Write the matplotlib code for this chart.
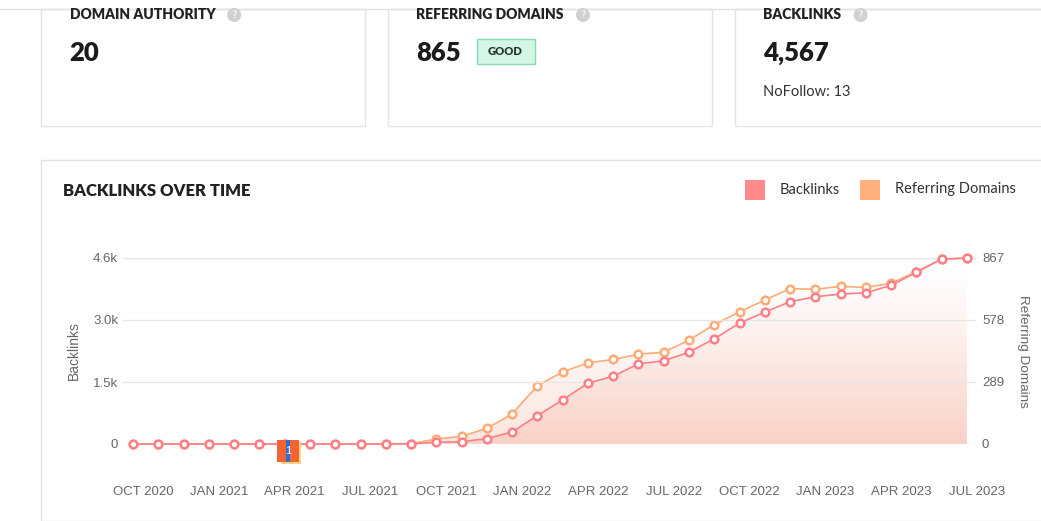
import matplotlib
matplotlib.use('Agg')
import matplotlib.pyplot as plt
import numpy as np
from matplotlib.patches import Rectangle, Circle, Polygon
from matplotlib.lines import Line2D
from matplotlib import transforms

W, H = 1041, 521

# monthly values, OCT 2020 .. JUL 2023
backlinks = [0, 0, 0, 0, 0, 0, 0, 0, 0, 0, 0, 5,
             41, 57, 131, 295, 697, 1082, 1492, 1664, 1968, 2042, 2255, 2583,
             2968, 3239, 3493, 3616, 3681, 3714, 3895, 4214, 4542, 4567]
ref_domains = [0, 0, 0, 0, 0, 0, 0, 0, 0, 0, 0, 2,
               23, 36, 73, 140, 272, 336, 378, 394, 419, 428, 484, 556,
               616, 671, 724, 721, 735, 730, 749, 803, 862, 865]
tick_labels = ['OCT 2020', 'JAN 2021', 'APR 2021', 'JUL 2021', 'OCT 2021', 'JAN 2022',
               'APR 2022', 'JUL 2022', 'OCT 2022', 'JAN 2023', 'APR 2023', 'JUL 2023']
bl_max = 4567
rd_max = 867
bl_ticks = [0, 1522, 3045, 4567]
bl_tick_labels = ['0', '1.5k', '3.0k', '4.6k']
rd_ticks = [0, 289, 578, 867]
annotation_month = 6
annotation_text = '1'

cards = [('DOMAIN AUTHORITY', '20'), ('REFERRING DOMAINS', '865'), ('BACKLINKS', '4,567')]
nofollow = 'NoFollow: 13'

RED = '#ff7f88'
ORANGE = '#ffab77'
TICK = '#666666'
SALMON = (0.96, 0.62, 0.53)

fig = plt.figure(figsize=(W / 100, H / 100), dpi=100)
PX = transforms.IdentityTransform()


def box(x0, y0, x1, y1, z=-5, **kw):
	fig.add_artist(Rectangle((x0, H - y1), x1 - x0, y1 - y0, transform=PX, zorder=z, **kw))


def label(x, y, s, **kw):
	return fig.text(x, H - y, s, transform=PX, **kw)


# top stat cards
fig.add_artist(Line2D([0, W], [H - 8.5, H - 8.5], transform=PX, color='#e2e2e2', lw=1,
                      zorder=-4))
card_x = [40.5, 387.5, 734.5]
card_r = [364.5, 711.5, 1050]
heads = []
for (title, value), x0, x1 in zip(cards, card_x, card_r):
	box(x0, 8.5, x1, 125.5, fc='white', ec='#e4e4e4', lw=1)
	heads.append(label(x0 + 29, 14.5, title, fontfamily='Lato', fontweight='heavy',
	                   fontsize=10, color='#222222', va='center'))
	label(x0 + 29, 53, value, fontfamily='Lato', fontweight='heavy', fontsize=18.5,
	      color='#1b1b1b', va='center')

fig.canvas.draw()
r = fig.canvas.get_renderer()
for txt in heads:
	bb = txt.get_window_extent(r)
	cx = bb.x1 + 19
	fig.add_artist(Circle((cx, H - 15), 7, transform=PX, fc='#d0d0d0', ec='none'))
	fig.text(cx, H - 15.5, '?', transform=PX, fontsize=7, color='#eeeeee', ha='center',
	         va='center', fontweight='bold')

box(476.5, 38.5, 534.5, 63.5, z=1, fc='#d3f6e6', ec='#86dbb3', lw=1)
label(505.5, 51.5, 'GOOD', fontfamily='Lato', fontweight='heavy', fontsize=8,
      color='#24352d', ha='center', va='center')
label(763, 92, nofollow, fontfamily='Lato', fontsize=10.5, color='#333333', va='center')

# chart card
box(40.5, 159.5, 1050, 520.5, fc='white', ec='#e4e4e4', lw=1)
label(63, 191, 'BACKLINKS OVER TIME', fontfamily='Lato', fontweight='heavy', fontsize=12,
      color='#222222', va='center')
box(745, 180, 765, 200, z=1, fc='#ff8a8a', ec='none')
label(780, 189.5, 'Backlinks', fontfamily='Lato', fontsize=10.5, color='#333333', va='center')
box(860, 180, 880, 200, z=1, fc='#ffb07d', ec='none')
label(895, 189.5, 'Referring Domains', fontfamily='Lato', fontsize=10.5, color='#333333',
      va='center')

ax = fig.add_axes([123 / W, 1 - 444 / H, (976 - 123) / W, (444 - 258) / H])
ax2 = ax.twinx()
ax2.set_zorder(1)
ax.set_zorder(2)
ax.patch.set_visible(False)
ax2.patch.set_visible(False)

x = np.arange(len(backlinks))


def gradient_fill(a, ys, top):
	verts = [(x[0], 0)] + list(zip(x, ys)) + [(x[-1], 0)]
	poly = Polygon(verts, closed=True, fc='none', ec='none', transform=a.transData)
	a.add_patch(poly)
	grad = np.zeros((200, 1, 4))
	grad[..., 0], grad[..., 1], grad[..., 2] = SALMON
	grad[:, 0, 3] = 0.27 * np.linspace(1.0, 0.0, 200) ** 1.4
	im = a.imshow(grad, extent=[x[0], x[-1], 0, top], origin='lower', aspect='auto',
	              interpolation='bilinear', zorder=1)
	im.set_clip_path(poly)


gradient_fill(ax2, ref_domains, rd_max)
gradient_fill(ax, backlinks, bl_max)

ax2.plot(x, ref_domains, color=ORANGE, lw=1.2, marker='o', ms=5.5, mfc='white',
         mec=ORANGE, mew=1.8, zorder=3, clip_on=False)
ax.plot(x, backlinks, color=RED, lw=1.2, marker='o', ms=5.5, mfc='white',
        mec=RED, mew=1.8, zorder=3, clip_on=False)

ax.set_xlim(-0.4, 33.36)
ax.set_ylim(0, bl_max)
ax2.set_ylim(0, rd_max)

ax.set_yticks(bl_ticks)
ax.set_yticklabels(bl_tick_labels)
ax2.set_yticks(rd_ticks)
ax2.set_yticklabels([str(v) for v in rd_ticks])
ax.grid(axis='y', color='#e6e6e6', lw=1)
ax.set_xticks(x[::3])
ax.set_xticklabels(tick_labels)

for a in (ax, ax2):
	for s in a.spines.values():
		s.set_visible(False)
ax.tick_params(axis='x', length=0, pad=30, labelsize=9.5, labelcolor=TICK)
ax.tick_params(axis='y', length=0, pad=3.6, labelsize=9.5, labelcolor=TICK)
ax2.tick_params(axis='y', length=0, pad=4.3, labelsize=9.5, labelcolor=TICK)
for lbl in ax.get_xticklabels() + ax.get_yticklabels() + ax2.get_yticklabels():
	lbl.set_fontfamily('Liberation Sans')
shift = transforms.ScaledTranslation(10 / 100, 0, fig.dpi_scale_trans)
for lbl in ax.get_xticklabels():
	lbl.set_transform(lbl.get_transform() + shift)

label(73.5, 351, 'Backlinks', rotation=90, fontfamily='Liberation Sans', fontsize=10,
      color=TICK, ha='center', va='center')
label(1023, 351, 'Referring Domains', rotation=270, fontfamily='Liberation Sans',
      fontsize=9.7, color=TICK, ha='center', va='center')

# event annotation marker
at = transforms.Affine2D() + transforms.ScaledTranslation(annotation_month, 0, ax.transData)
fig.add_artist(Rectangle((-3.6, -20), 20, 22, transform=at, fc='#ffd27c', ec='none', zorder=5))
fig.add_artist(Rectangle((-7.8, -18), 22.3, 22, transform=at, fc='#f26433', ec='none', zorder=6))
fig.add_artist(Rectangle((1.1, -18), 4.3, 22, transform=at, fc='#2f6ed8', ec='none', zorder=7))
fig.text(3.3, -7.5, annotation_text, transform=at, fontsize=8, color='white', ha='center',
         va='center', fontfamily='Liberation Sans', zorder=8)

fig.savefig('out.png', dpi=100)
